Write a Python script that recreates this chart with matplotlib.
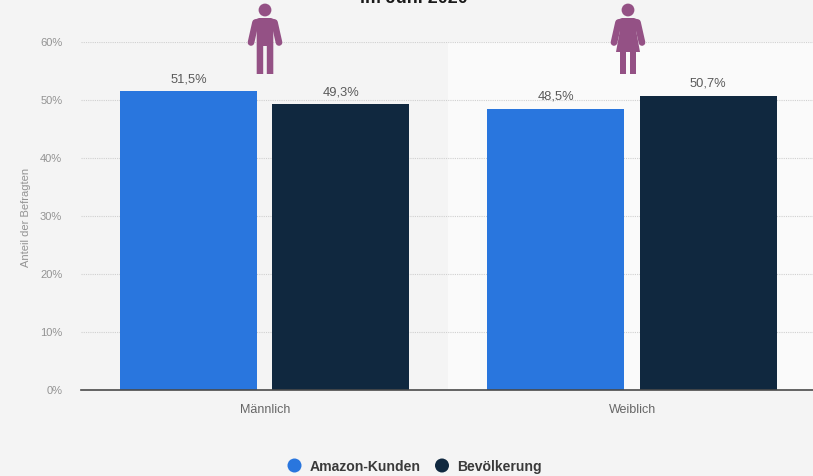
import matplotlib
matplotlib.use("Agg")
import matplotlib.pyplot as plt
from matplotlib.patches import Circle, Polygon
from matplotlib.lines import Line2D

plt.rcParams['font.family'] = ['Liberation Sans', 'DejaVu Sans']

categories = ["Männlich", "Weiblich"]
series_names = ["Amazon-Kunden", "Bevölkerung"]
amazon_values = [51.5, 48.5]
population_values = [49.3, 50.7]
y_ticks = [0, 10, 20, 30, 40, 50, 60]
y_tick_labels = ["0%", "10%", "20%", "30%", "40%", "50%", "60%"]
title_text = "im Juni 2020"
y_label = "Anteil der Befragten"

W, H = 813, 477
BG = "#f4f4f4"
BLUE = "#2976de"
NAVY = "#10283f"
ICON = "#945185"

fig = plt.figure(figsize=(W / 100, H / 100), dpi=100, facecolor=BG)
ax = fig.add_axes([81 / W, 1 - 391 / H, (W - 81) / W, 348 / H], facecolor="none")

ax.set_xlim(-0.5, 1.4925)
ax.set_ylim(0, 60)
ax.axvspan(0.5, 1.4925, color="#fafafa", zorder=0, lw=0)
ax.set_axisbelow(True)
ax.yaxis.grid(True, color="#d0d0d0", lw=0.8, ls=(0, (1, 1)), zorder=1)

width = 0.373
offset = 0.2075
for i, cat in enumerate(categories):
    for val, off, col in ((amazon_values[i], -offset, BLUE), (population_values[i], offset, NAVY)):
        ax.bar(i + off, val, width=width, color=col, zorder=2, lw=0)
        ax.annotate(f"{val:.1f}%".replace(".", ","), (i + off, val), xytext=(0, 5),
                    textcoords="offset points", ha="center", va="bottom",
                    fontsize=9.3, color="#5a5a5a", zorder=3)

ax.set_xticks(range(len(categories)), categories)
ax.set_yticks(y_ticks, y_tick_labels)
ax.tick_params(axis="x", length=0, pad=9.7, labelsize=9, labelcolor="#666666")
ax.tick_params(axis="y", length=0, pad=13.5, labelsize=8, labelcolor="#939393")
for lab in ax.get_yticklabels():
    lab.set_verticalalignment("center")
for s in ("top", "right", "left"):
    ax.spines[s].set_visible(False)
ax.spines["bottom"].set_color("#4a4a4a")
ax.spines["bottom"].set_linewidth(1.2)
ax.spines["bottom"].set_zorder(4)
ax.set_ylabel(y_label, fontsize=8, color="#939393", labelpad=0)
ax.yaxis.set_label_coords((31.5 - 81) / (W - 81), 0.5 + (391 - 217 - 174) / 348)

# overlay in pixel coordinates for the decorative icons, title and legend
ov = fig.add_axes([0, 0, 1, 1], facecolor="none", zorder=5)
ov.set_xlim(0, W)
ov.set_ylim(H, 0)
ov.axis("off")

ov.text(414, -1.5, title_text, fontsize=12.9, fontweight="bold", color="#1a1a1a",
        ha="center", va="center")


def arms(cx):
    for sgn in (-1, 1):
        ov.add_line(Line2D([cx + sgn * 9.5, cx + sgn * 14], [23.5, 43.5], color=ICON, lw=4.8,
                           solid_capstyle="round"))


def man(cx):
    ov.add_patch(Circle((cx, 11), 6.4, color=ICON, lw=0))
    arms(cx)
    ov.add_patch(Polygon([(cx - 10, 20.5), (cx - 6, 19), (cx + 6, 19), (cx + 10, 20.5), (cx + 8.3, 30),
                          (cx + 8.3, 75), (cx + 1.8, 75), (cx + 1.8, 47), (cx - 1.8, 47),
                          (cx - 1.8, 75), (cx - 8.3, 75), (cx - 8.3, 30)], color=ICON, lw=0))


def woman(cx):
    ov.add_patch(Circle((cx, 11), 6.4, color=ICON, lw=0))
    arms(cx)
    ov.add_patch(Polygon([(cx - 10, 20.5), (cx - 6, 19), (cx + 6, 19), (cx + 10, 20.5), (cx + 8, 31),
                          (cx + 12, 53), (cx + 8, 53), (cx + 8, 75), (cx + 2, 75), (cx + 2, 53),
                          (cx - 2, 53), (cx - 2, 75), (cx - 8, 75), (cx - 8, 53), (cx - 12, 53),
                          (cx - 8, 31)], color=ICON, lw=0))


man(265)
woman(628)

ov.add_patch(Circle((294.5, 466.5), 7, color=BLUE, lw=0))
ov.add_patch(Circle((442, 466.5), 7, color=NAVY, lw=0))
ov.text(309.5, 467, series_names[0], fontsize=10.1, fontweight="bold", color="#3a3a3a", va="center")
ov.text(457.5, 467, series_names[1], fontsize=10.1, fontweight="bold", color="#3a3a3a", va="center")

fig.savefig("out.png", dpi=100, facecolor=BG)
